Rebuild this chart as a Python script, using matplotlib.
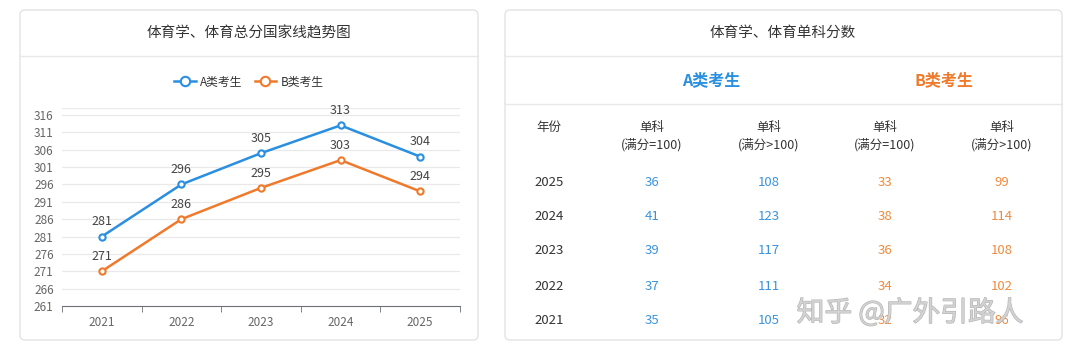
import matplotlib.pyplot as plt
from matplotlib.patches import FancyBboxPatch
import matplotlib.patheffects as pe
import numpy as np

plt.rcParams['font.family'] = ['Noto Sans CJK SC', 'DejaVu Sans']

# chart data
years = ['2021', '2022', '2023', '2024', '2025']
score_a = [281, 296, 305, 313, 304]
score_b = [271, 286, 295, 303, 294]
yticks = list(range(261, 317, 5))

# table data (rows top to bottom)
table_years = ['2025', '2024', '2023', '2022', '2021']
a_single100 = [36, 41, 39, 37, 35]
a_single_gt100 = [108, 123, 117, 111, 105]
b_single100 = [33, 38, 36, 34, 32]
b_single_gt100 = [99, 114, 108, 102, 96]
col_heads = ['(满分=100)', '(满分>100)', '(满分=100)', '(满分>100)']

BLUE = '#2a8fe0'
ORANGE = '#ef7a2c'
TBLUE = '#3a93dc'
TORANGE = '#f08a3e'

W, H = 1080, 355
fig = plt.figure(figsize=(W / 100, H / 100), dpi=100)

# background layer in pixel coords
bg = fig.add_axes([0, 0, 1, 1], zorder=0)
bg.set_xlim(0, W)
bg.set_ylim(H, 0)
bg.axis('off')

for x0, x1 in [(20, 478), (505, 1062)]:
    card = FancyBboxPatch((x0, 10), x1 - x0, 330, boxstyle='round,pad=0,rounding_size=5',
                          fc='white', ec='#e3e3e3', lw=1)
    bg.add_patch(card)
    bg.plot([x0, x1], [56, 56], color='#e8e8e8', lw=1)
bg.plot([505, 1062], [104, 104], color='#e8e8e8', lw=1)

bg.text(249, 33, '体育学、体育总分国家线趋势图', ha='center', va='center', fontsize=10.5, color='#333333')
bg.text(783, 33, '体育学、体育单科分数', ha='center', va='center', fontsize=10.5, color='#333333')

# table
bg.text(711, 80, 'A类考生', ha='center', va='center', fontsize=11.5, color=BLUE, fontweight='bold')
bg.text(944, 80, 'B类考生', ha='center', va='center', fontsize=11.5, color=ORANGE, fontweight='bold')

col_x = [549, 652, 769, 885, 1002]
bg.text(col_x[0], 127, '年份', ha='center', va='center', fontsize=9, color='#333333')
for cx, head in zip(col_x[1:], col_heads):
    bg.text(cx, 127, '单科', ha='center', va='center', fontsize=9, color='#333333')
    bg.text(cx, 145, head, ha='center', va='center', fontsize=9, color='#333333')

row_y = [182, 217, 251, 286, 321]
cols = [(a_single100, TBLUE), (a_single_gt100, TBLUE), (b_single100, TORANGE), (b_single_gt100, TORANGE)]
for i, ry in enumerate(row_y):
    bg.text(col_x[0], ry, table_years[i], ha='center', va='center', fontsize=9.5, color='#333333')
    for cx, (vals, c) in zip(col_x[1:], cols):
        bg.text(cx, ry, str(vals[i]), ha='center', va='center', fontsize=9.5, color=c)

# watermark
bg.text(910, 313, '知乎 @广外引路人', ha='center', va='center', fontsize=20, color='#d4d4d4',
        alpha=0.85, path_effects=[pe.withStroke(linewidth=0.8, foreground='#a8a8a8')], zorder=5)

# line chart
ax = fig.add_axes([62 / W, 1 - 306 / H, 398 / W, 198 / H], zorder=1)
ax.patch.set_alpha(0)
x = np.arange(len(years))
ax.plot(x, score_a, color=BLUE, lw=1.8, marker='o', ms=4.5, mfc='white', mew=1.5, label='A类考生', zorder=3)
ax.plot(x, score_b, color=ORANGE, lw=1.8, marker='o', ms=4.5, mfc='white', mew=1.5, label='B类考生', zorder=3)
for xi, a, b in zip(x, score_a, score_b):
    ax.text(xi, a + 2.4, str(a), ha='center', va='bottom', fontsize=9, color='#444444')
    ax.text(xi, b + 2.4, str(b), ha='center', va='bottom', fontsize=9, color='#444444')

ax.set_xlim(-0.5, len(years) - 0.5)
ax.set_ylim(261, 318)
ax.set_yticks(yticks)
ax.set_xticks(x)
ax.set_xticklabels(years)
ax.set_xticks(np.arange(-0.5, len(years)), minor=True)
ax.tick_params(axis='x', which='major', length=0, pad=7, labelsize=8.5, labelcolor='#666666')
ax.tick_params(axis='x', which='minor', length=4, color='#6e7079', direction='out')
ax.tick_params(axis='y', length=0, pad=6, labelsize=8.5, labelcolor='#666666')
for yv in yticks[1:] + [318]:
    ax.axhline(yv, color='#e9e9e9', lw=0.9, zorder=1)
for s in ['top', 'right', 'left']:
    ax.spines[s].set_visible(False)
ax.spines['bottom'].set_color('#6e7079')

leg = fig.legend(loc='center', bbox_to_anchor=(249 / W, 1 - 82 / H), ncol=2, frameon=False,
                 fontsize=8.5, handlelength=1.8, columnspacing=1.0, handletextpad=0.4, markerscale=1.5)
for t in leg.get_texts():
    t.set_color('#333333')

fig.savefig('out.png', dpi=100, facecolor='#ffffff')
